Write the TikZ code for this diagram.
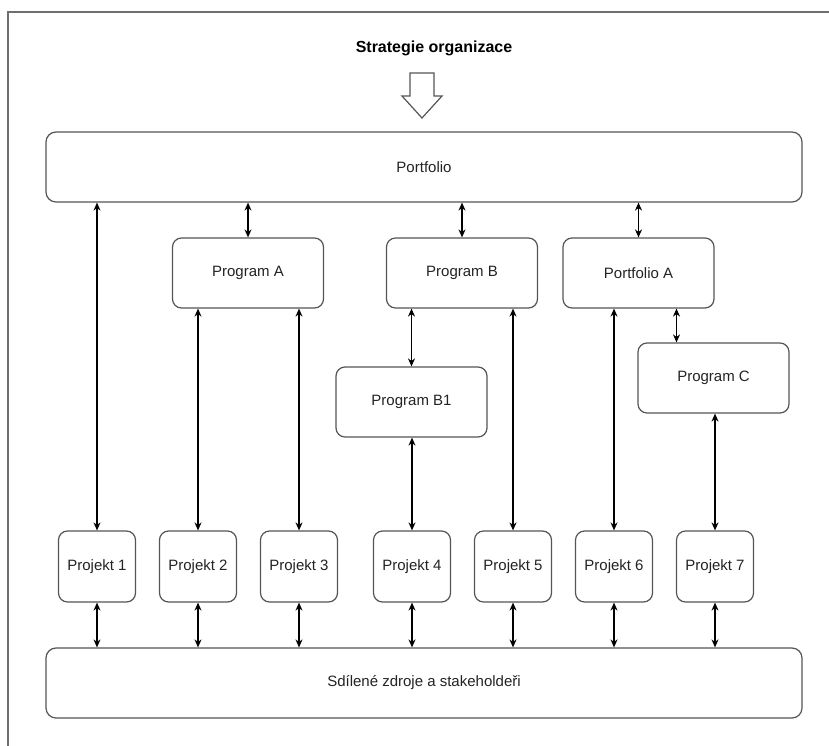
\documentclass[tikz,border=0pt]{standalone}
\usepackage{fontspec}
\setmainfont{Liberation Sans}
\usetikzlibrary{shapes.geometric, arrows.meta, positioning, calc}
\definecolor{framegray}{RGB}{110,110,110}
\definecolor{boxgray}{RGB}{85,85,85}
\definecolor{textgray}{RGB}{35,35,35}
\tikzstyle{wide} = [rectangle, rounded corners=10pt, minimum width=756pt, minimum height=70pt, text centered, draw=boxgray, line width=1.2pt, text=textgray, font=\fontsize{15}{18}\selectfont]
\tikzstyle{program} = [rectangle, rounded corners=9pt, minimum width=151pt, minimum height=70pt, text centered, draw=boxgray, line width=1.2pt, text=textgray, font=\fontsize{15}{18}\selectfont]
\tikzstyle{projekt} = [rectangle, rounded corners=9pt, minimum width=77pt, minimum height=71pt, inner sep=1pt, text centered, draw=boxgray, line width=1.2pt, text=textgray, font=\fontsize{15}{18}\selectfont]
\tikzstyle{arrow} = [line width=1.3pt, <->, >={Stealth[length=8pt,width=7pt]}]

\begin{document}
\begin{tikzpicture}[x=1pt, y=-1pt, node distance=101pt]
\useasboundingbox (0,0) rectangle (829,746);

% frame
\draw [framegray, line width=1.2pt] (8,746) -- (8,12) -- (829,12);

\node (strategie) at (434,48) {\fontsize{16}{19}\selectfont\bfseries Strategie organizace};
\draw [boxgray, line width=1.2pt] (410,73) -- (434,73) -- (434,96) -- (442,96) -- (422,118) -- (402,96) -- (410,96) -- cycle;

\node (portfolio) [wide] at (424,167) {Portfolio};
\node (progA) [program] at (248,273) {Program A};
\node (progB) [program] at (462,273) {Program B};
\node (portA) [program] at (638.5,273) {Portfolio A};
\node (progB1) [program] at (411.5,402) {Program B1};
\node (progC) [program] at (713.5,378) {Program C};

\node (p1) [projekt] at (97,566.5) {Projekt 1};
\node (p2) [projekt, right of=p1] {Projekt 2};
\node (p3) [projekt, right of=p2] {Projekt 3};
\node (p4) [projekt, right of=p3, xshift=12pt] {Projekt 4};
\node (p5) [projekt, right of=p4] {Projekt 5};
\node (p6) [projekt, right of=p5] {Projekt 6};
\node (p7) [projekt, right of=p6] {Projekt 7};

\node (sdilene) [wide] at (424,683) {Sdílené zdroje a stakeholdeři};

% Arrows
\draw [arrow] (p1.north |- portfolio.south) -- (p1.north);
\draw [arrow] (progA.north |- portfolio.south) -- (progA.north);
\draw [arrow] (progB.north |- portfolio.south) -- (progB.north);
\draw [arrow] (portA.north |- portfolio.south) -- (portA.north);
\draw [arrow] (p2.north |- progA.south) -- (p2.north);
\draw [arrow] (p3.north |- progA.south) -- (p3.north);
\draw [arrow] (progB1.north |- progB.south) -- (progB1.north);
\draw [arrow] (p4.north |- progB1.south) -- (p4.north);
\draw [arrow] (p5.north |- progB.south) -- (p5.north);
\draw [arrow] ([xshift=38pt]portA.south) -- ([xshift=38pt]portA.south |- progC.north);
\draw [arrow] (p6.north |- portA.south) -- (p6.north);
\draw [arrow] (p7.north |- progC.south) -- (p7.north);
\foreach \p in {p1,p2,p3,p4,p5,p6,p7}
  \draw [arrow] (\p.south) -- (\p.south |- sdilene.north);

\end{tikzpicture}
\end{document}
